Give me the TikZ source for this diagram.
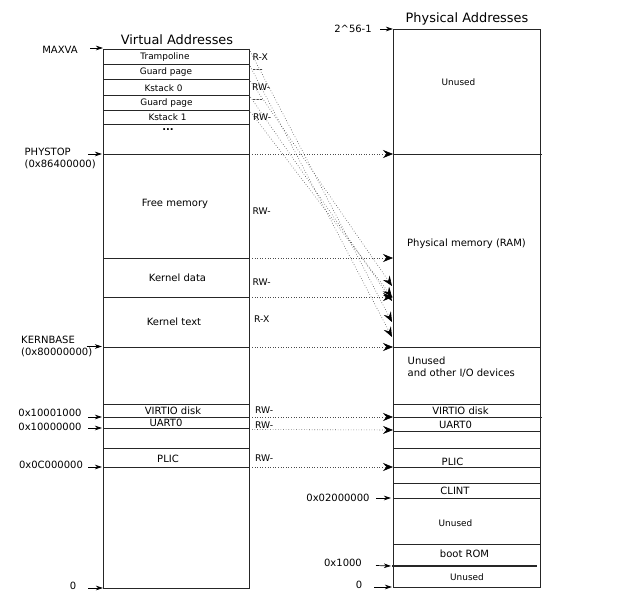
\documentclass[tikz,border=0pt]{standalone}
\usepackage{fontspec}
\setmainfont{DejaVu Sans}
\usetikzlibrary{arrows.meta}
\begin{document}
\begin{tikzpicture}[x=1pt,y=-1pt,
  boxline/.style={draw=black!85, line width=0.8pt},
  lbl/.style={font=\fontsize{10}{12}\selectfont, inner sep=0pt},
  smalllbl/.style={font=\fontsize{8.9}{10}\selectfont, inner sep=0pt},
  titlelbl/.style={font=\fontsize{12.9}{15}\selectfont, inner sep=0pt},
  perm/.style={font=\fontsize{9.2}{11}\selectfont, inner sep=0pt, anchor=west},
  addr/.style={draw=black, line width=0.7pt, -{Stealth[length=7pt,width=4.5pt,inset=2pt]}},
  maparrow/.style={draw=black!70, dotted, line width=0.6pt, -{Stealth[length=10pt,width=8pt,inset=3.5pt,color=black]}},
]
\useasboundingbox (0,0) rectangle (627,599);

% ---------------- Virtual address space ----------------
\node[titlelbl] (vtitle) at (177,40) {Virtual Addresses};
\draw[boxline] (103,49) rectangle (249,588);
\foreach \yy in {64,79,95,110,124,154,258,297,347,404,417,428,448,467}
  \draw[boxline] (103,\yy) -- (249,\yy);

\node[smalllbl] (vtramp) at (165,57.5) {Trampoline};
\node[smalllbl] (vguard0) at (166,72.5) {Guard page};
\node[smalllbl] (vks0) at (163.5,88) {Kstack 0};
\node[smalllbl] (vguard1) at (166.5,103.5) {Guard page};
\node[smalllbl] (vks1) at (167.5,117.5) {Kstack 1};
\node[font=\fontsize{10}{12}\selectfont\bfseries, inner sep=0pt] (vdots) at (168,130) {...};
\node[lbl] (vfree) at (175,204) {Free memory};
\node[lbl] (vkdata) at (177.5,278) {Kernel data};
\node[lbl] (vktext) at (174,322) {Kernel text};
\node[lbl] (vvirtio) at (173,411) {VIRTIO disk};
\node[lbl] (vuart) at (166,422.5) {UART0};
\node[lbl] (vplic) at (168,459) {PLIC};

% permissions
\node[perm] (p1) at (252.5,57) {R-X};
\node[perm] (p2) at (252.5,71) {{-}{-}{-}};
\node[perm] (p3) at (252,87) {RW-};
\node[perm] (p4) at (252.5,101.5) {{-}{-}{-}};
\node[perm] (p5) at (253,117) {RW-};
\node[perm] (p6) at (252.5,211) {RW-};
\node[perm] (p7) at (252.5,282) {RW-};
\node[perm] (p8) at (254,319) {R-X};
\node[perm] (p9) at (255,410.5) {RW-};
\node[perm] (p10) at (255,425) {RW-};
\node[perm] (p11) at (255,458) {RW-};

% left address labels
\node[lbl] (lmaxva) at (60,50) {MAXVA};
\node[lbl, anchor=west, align=left] (lphystop) at (24.5,158.5) {PHYSTOP\\(0x86400000)};
\node[lbl, anchor=west, align=left] (lkernbase) at (21,346.5) {KERNBASE\\(0x80000000)};
\node[lbl] (l1) at (50,412.5) {0x10001000};
\node[lbl] (l2) at (50,427) {0x10000000};
\node[lbl] (l3) at (51,465) {0x0C000000};
\node[lbl] (l4) at (73,585.5) {0};

\coordinate (vmaxva) at (103,48);
\coordinate (vphystop) at (102,154);
\coordinate (vkernbase) at (102,346.5);
\coordinate (va1) at (102,417);
\coordinate (va2) at (102,428);
\coordinate (va3) at (102,467);
\coordinate (va4) at (103,588);

\draw[addr] (90,48) -- (vmaxva);
\draw[addr] (88,154) -- (vphystop);
\draw[addr] (86.5,346.5) -- (vkernbase);
\draw[addr] (88,417) -- (va1);
\draw[addr] (88,428) -- (va2);
\draw[addr] (88,467) -- (va3);
\draw[addr] (88,588) -- (va4);

% ---------------- Physical address space ----------------
\node[titlelbl] (ptitle) at (467,19.3) {Physical Addresses};
\draw[boxline] (393,29) rectangle (540,587);
\draw[boxline] (393,154) -- (542,154);
\draw[boxline] (393,417) -- (542,417);
\foreach \yy in {347,404,431,448,467,483,498,544}
  \draw[boxline] (393,\yy) -- (540,\yy);
\draw[draw=black!85, line width=1.4pt] (392,566) -- (537,566);

\node[smalllbl] (punused0) at (458.5,82.5) {Unused};
\node[lbl] (pram) at (466.5,244) {Physical memory (RAM)};
\node[lbl, anchor=west, align=left] (pio) at (407.5,367) {Unused\\and other I/O devices};
\node[lbl] (pvirtio) at (460.5,411) {VIRTIO disk};
\node[lbl] (puart) at (455.5,425) {UART0};
\node[lbl] (pplic) at (452.5,462) {PLIC};
\node[lbl] (pclint) at (455,491) {CLINT};
\node[smalllbl] (punused1) at (455.5,523.5) {Unused};
\node[lbl] (pboot) at (464.5,554) {boot ROM};
\node[smalllbl] (punused2) at (467,577.5) {Unused};

\node[lbl] (ltop) at (353,29) {2\textasciicircum 56-1};
\node[lbl] (lclint) at (338,498) {0x02000000};
\node[lbl] (lrom) at (343,563) {0x1000};
\node[lbl] (lzero) at (359,585) {0};

\coordinate (ptop) at (393,29);
\coordinate (pclintl) at (391,498);
\coordinate (proml) at (391,566);
\coordinate (pzerol) at (392,587);
\draw[addr] (380,29) -- (ptop);
\draw[addr] (376,498) -- (pclintl);
\draw[addr] (376,565.5) -- (proml);
\draw[addr] (374,587) -- (pzerol);

% ---------------- Mappings ----------------
\coordinate (m1s) at (252,154);   \coordinate (m1e) at (393,154);
\coordinate (m2s) at (252,258);   \coordinate (m2e) at (393,258);
\coordinate (m3s) at (252,297);   \coordinate (m3e) at (393,297);
\coordinate (m4s) at (252,347);   \coordinate (m4e) at (393,347);
\coordinate (m5s) at (252,417);   \coordinate (m5e) at (393,417);
\coordinate (m6s) at (252,429.5); \coordinate (m6e) at (393,430);
\coordinate (m7s) at (252,467);   \coordinate (m7e) at (393,467);
\foreach \i in {1,...,7} \draw[maparrow] (m\i s) -- (m\i e);

\coordinate (d1s) at (249,49);  \coordinate (d1e) at (392,322);
\coordinate (d2s) at (249,64);  \coordinate (d2e) at (392,337);
\coordinate (d3s) at (249,79);  \coordinate (d3e) at (392,286);
\coordinate (d4s) at (249,95);  \coordinate (d4e) at (392,301);
\coordinate (d5s) at (249,110); \coordinate (d5e) at (392,297);
\foreach \i in {1,...,5} \draw[maparrow] (d\i s) -- (d\i e);
\end{tikzpicture}
\end{document}
